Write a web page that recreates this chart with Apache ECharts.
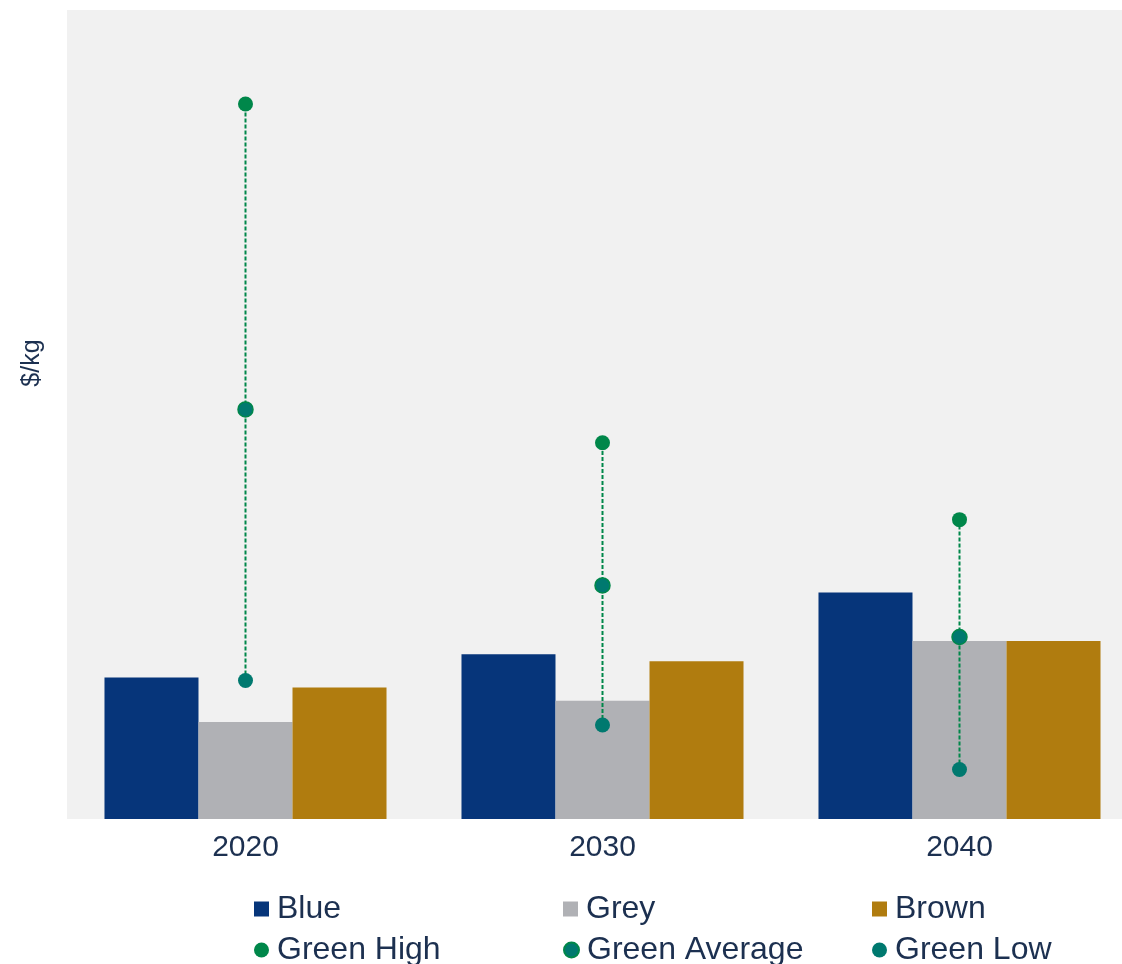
<!DOCTYPE html>
<html lang="en">

<head>
    <meta charset="UTF-8">
    <title>Hydrogen cost</title>
    <script src="https://cdn.jsdelivr.net/npm/echarts@6/dist/echarts.min.js"></script>
    <style>
        html, body {
            margin: 0;
            padding: 0;
            background: #fff;
        }

        #main {
            width: 1122px;
            height: 964px;
        }
    </style>
</head>

<body>
    <div id="main"></div>
    <script>
        // data (no axis scale shown, arbitrary units)
        var years = ['2020', '2030', '2040'];
        var blue = [1.40, 1.63, 2.24];
        var grey = [0.96, 1.17, 1.76];
        var brown = [1.30, 1.56, 1.76];
        var greenHigh = [7.07, 3.72, 2.96];
        var greenAvg = [4.05, 2.31, 1.80];
        var greenLow = [1.37, 0.93, 0.49];

        var textColor = '#1c3050';
        var font = 'Liberation Sans, Arial, sans-serif';

        var rangeData = [];
        for (var i = 0; i < years.length; i++) {
            rangeData.push([i, greenLow[i], greenHigh[i]]);
        }

        var myChart = echarts.init(document.getElementById('main'));

        // one legend per item, laid out as a 3x2 table like the original
        function legendAt(left, top, name, icon) {
            return {
                left: left,
                top: top,
                itemWidth: 15,
                itemHeight: 15,
                padding: 0,
                selectedMode: false,
                data: [{ name: name, icon: icon }],
                textStyle: {
                    color: textColor,
                    fontSize: 32,
                    lineHeight: 32,
                    fontFamily: font,
                    padding: [0, 0, 0, 3]
                }
            };
        }

        var option = {
            animation: false,
            textStyle: { fontFamily: font },
            grid: {
                show: true,
                left: 67,
                top: 10,
                width: 1071,
                height: 809,
                outerBoundsMode: 'none',
                containLabel: false,
                backgroundColor: '#f1f1f1',
                borderWidth: 0
            },
            graphic: [{
                type: 'text',
                x: 32,
                y: 363,
                rotation: Math.PI / 2,
                style: {
                    text: '$/kg',
                    fill: textColor,
                    fontSize: 25,
                    fontFamily: font,
                    align: 'center',
                    verticalAlign: 'middle'
                }
            }],
            legend: [
                legendAt(254, 893, 'Blue', 'rect'),
                legendAt(563, 893, 'Grey', 'rect'),
                legendAt(872, 893, 'Brown', 'rect'),
                legendAt(254, 934, 'Green High', 'circle'),
                legendAt(563, 934, 'Green Average', 'circle'),
                legendAt(872, 934, 'Green Low', 'circle')
            ],
            xAxis: {
                type: 'category',
                data: years,
                axisLine: { show: false },
                axisTick: { show: false },
                axisLabel: {
                    color: textColor,
                    fontSize: 30,
                    margin: 14,
                    fontFamily: font
                }
            },
            yAxis: {
                type: 'value',
                min: 0,
                max: 8,
                show: false
            },
            series: [
                {
                    name: 'Blue', type: 'bar', data: blue, barGap: 0, barCategoryGap: '21%',
                    itemStyle: { color: '#06357a' }
                },
                {
                    name: 'Grey', type: 'bar', data: grey,
                    itemStyle: { color: '#b0b1b5' }
                },
                {
                    name: 'Brown', type: 'bar', data: brown,
                    itemStyle: { color: '#b07c0f' }
                },
                {
                    // dashed range line low -> high
                    type: 'custom',
                    z: 3,
                    data: rangeData,
                    renderItem: function (params, api) {
                        var p1 = api.coord([api.value(0), api.value(1)]);
                        var p2 = api.coord([api.value(0), api.value(2)]);
                        return {
                            type: 'line',
                            shape: { x1: p1[0], y1: p1[1], x2: p2[0], y2: p2[1] },
                            style: { stroke: '#00874a', lineWidth: 2, lineDash: [4, 2] }
                        };
                    }
                },
                {
                    name: 'Green High', type: 'scatter', data: greenHigh, symbolSize: 15, z: 5,
                    itemStyle: { color: '#00874a', opacity: 1 }
                },
                {
                    name: 'Green Average', type: 'scatter', data: greenAvg, symbolSize: 15, z: 5,
                    itemStyle: { color: '#00796f', borderColor: '#00874a', borderWidth: 1.5, opacity: 1 }
                },
                {
                    name: 'Green Low', type: 'scatter', data: greenLow, symbolSize: 15, z: 5,
                    itemStyle: { color: '#00796f', opacity: 1 }
                }
            ]
        };

        myChart.setOption(option);
    </script>
</body>

</html>
